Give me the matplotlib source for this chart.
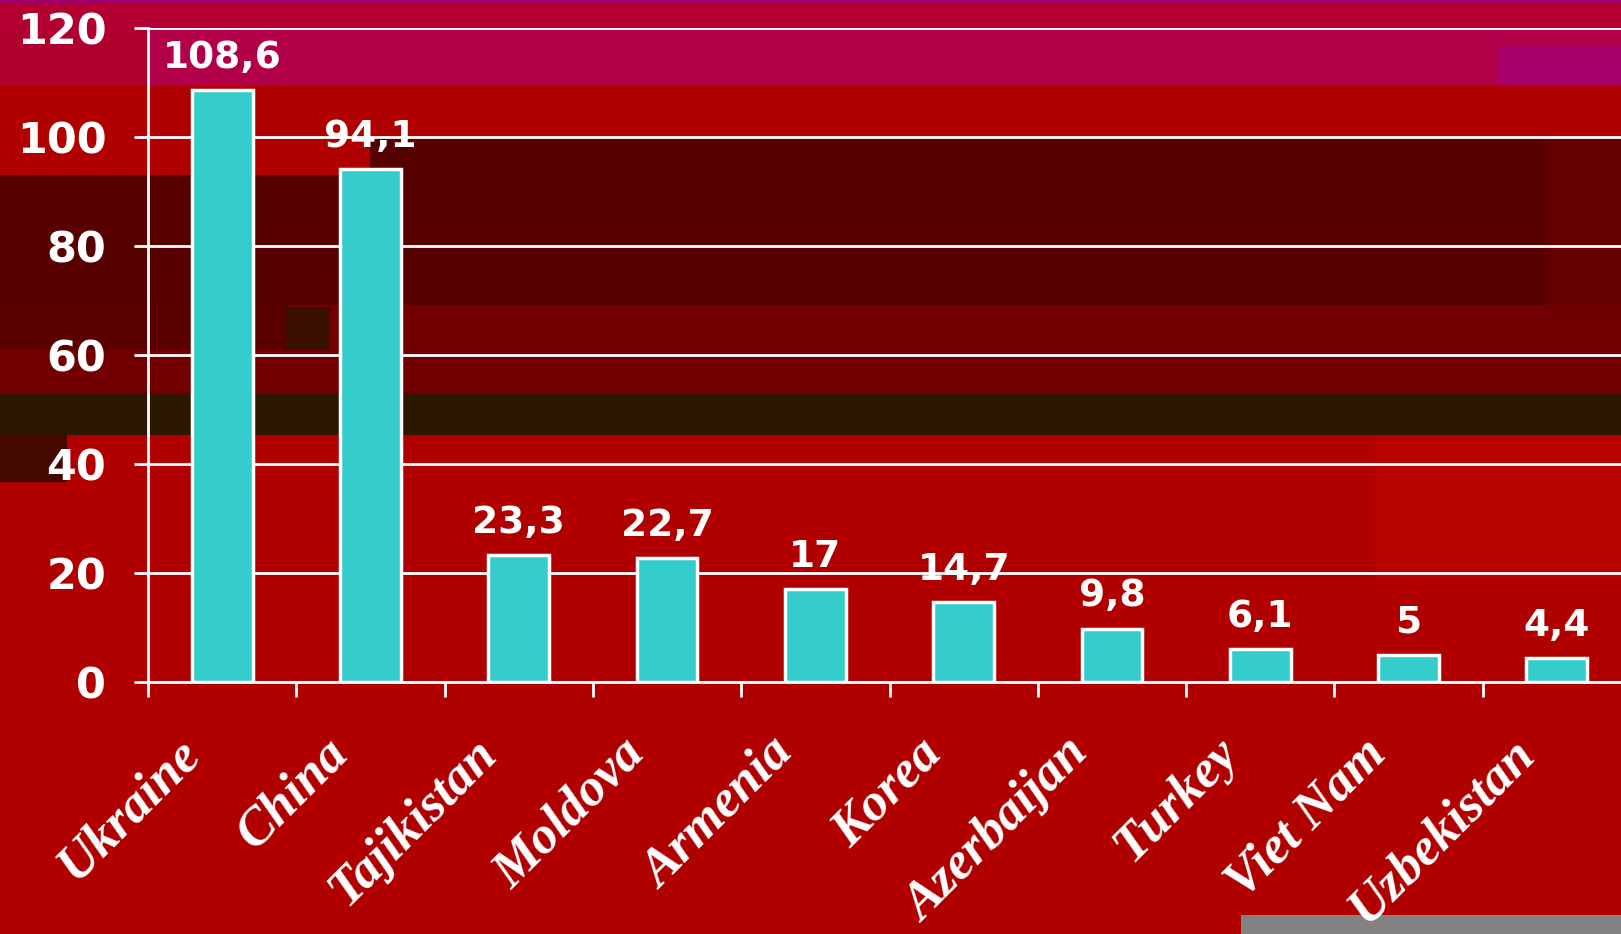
import matplotlib
matplotlib.use("Agg")
import matplotlib.pyplot as plt
import matplotlib.transforms as mtransforms
from matplotlib.patches import Rectangle

countries = ["Ukraine", "China", "Tajikistan", "Moldova", "Armenia",
             "Korea", "Azerbaijan", "Turkey", "Viet Nam", "Uzbekistan"]
values = [108.6, 94.1, 23.3, 22.7, 17, 14.7, 9.8, 6.1, 5, 4.4]
value_labels = ["108,6", "94,1", "23,3", "22,7", "17", "14,7", "9,8", "6,1", "5", "4,4"]
yticks = [0, 20, 40, 60, 80, 100, 120]

W, H = 1621, 934
fig = plt.figure(figsize=(W / 100, H / 100), dpi=100)
fig.patch.set_facecolor("#b00000")

# background bands (pixel boxes: x0, y0_top, x1, y1_bottom, colour)
bands = [
    (0, 0, W, 28, "#b30032"),
    (0, 0, W, 3, "#a0006e"),
    (0, 28, W, 86, "#b20048"),
    (0, 28, 148, 86, "#b0002e"),
    (1497, 45, W, 86, "#a8006a"),
    (370, 138, W, 305, "#560000"),
    (0, 175, 370, 305, "#560000"),
    (1545, 138, W, 305, "#640000"),
    (0, 305, W, 393, "#720000"),
    (0, 305, 290, 350, "#5a0000"),
    (285, 307, 330, 350, "#3a1000"),
    (0, 393, W, 435, "#2c1800"),
    (0, 435, 67, 482, "#450800"),
    (1375, 435, W, 580, "#b80300"),
    (1241, 915, W, H, "#828282"),
]
for x0, y0, x1, y1, c in bands:
    fig.patches.append(Rectangle((x0 / W, 1 - y1 / H), (x1 - x0) / W, (y1 - y0) / H,
                                 transform=fig.transFigure, facecolor=c,
                                 edgecolor="none", zorder=-10))

left_px, zero_px, top_px = 148, 682, 28
cat_px = 148.3
ax = fig.add_axes([left_px / W, 1 - zero_px / H, (W - left_px) / W, (zero_px - top_px) / H])
ax.set_zorder(1)
ax.set_facecolor("none")
x = list(range(len(countries)))
ax.bar(x, values, width=0.41, color="#35cccc", edgecolor="white", linewidth=2.5, zorder=3)
ax.set_xlim(-0.5, -0.5 + (W - left_px) / cat_px)
ax.set_ylim(0, 120)

ax.set_yticks(yticks)
ax.set_yticklabels([str(v) for v in yticks], fontsize=31, fontweight="bold",
                   color="white", family="DejaVu Sans")
ax.tick_params(axis="y", direction="out", length=10, width=2, color="white", pad=20)
ax.yaxis.grid(True, color="white", linewidth=2, zorder=1)
ax.set_axisbelow(True)

ax.set_xticks([i - 0.5 for i in x], minor=True)
ax.set_xticks([])
ax.tick_params(axis="x", which="minor", direction="out", length=11, width=2, color="white")

for s in ["top", "right"]:
    ax.spines[s].set_visible(False)
for s in ["left", "bottom"]:
    ax.spines[s].set_color("white")
    ax.spines[s].set_linewidth(2)

for xi, v, lab in zip(x, values, value_labels):
    ax.annotate(lab, (xi, v), xytext=(0, 16), textcoords="offset points",
                ha="center", va="baseline", fontsize=27, fontweight="bold",
                color="white", family="DejaVu Sans")

base = mtransforms.blended_transform_factory(ax.transData, ax.transAxes)
off = mtransforms.ScaledTranslation(-0.30, -0.64, fig.dpi_scale_trans)
for xi, name in zip(x, countries):
    ax.text(xi, 0, name, transform=base + off, rotation=45, rotation_mode="anchor",
            ha="right", va="center", fontsize=38, fontweight="bold", fontstyle="italic",
            family="Liberation Serif", color="white", clip_on=False)

fig.savefig("out.png", dpi=100)
